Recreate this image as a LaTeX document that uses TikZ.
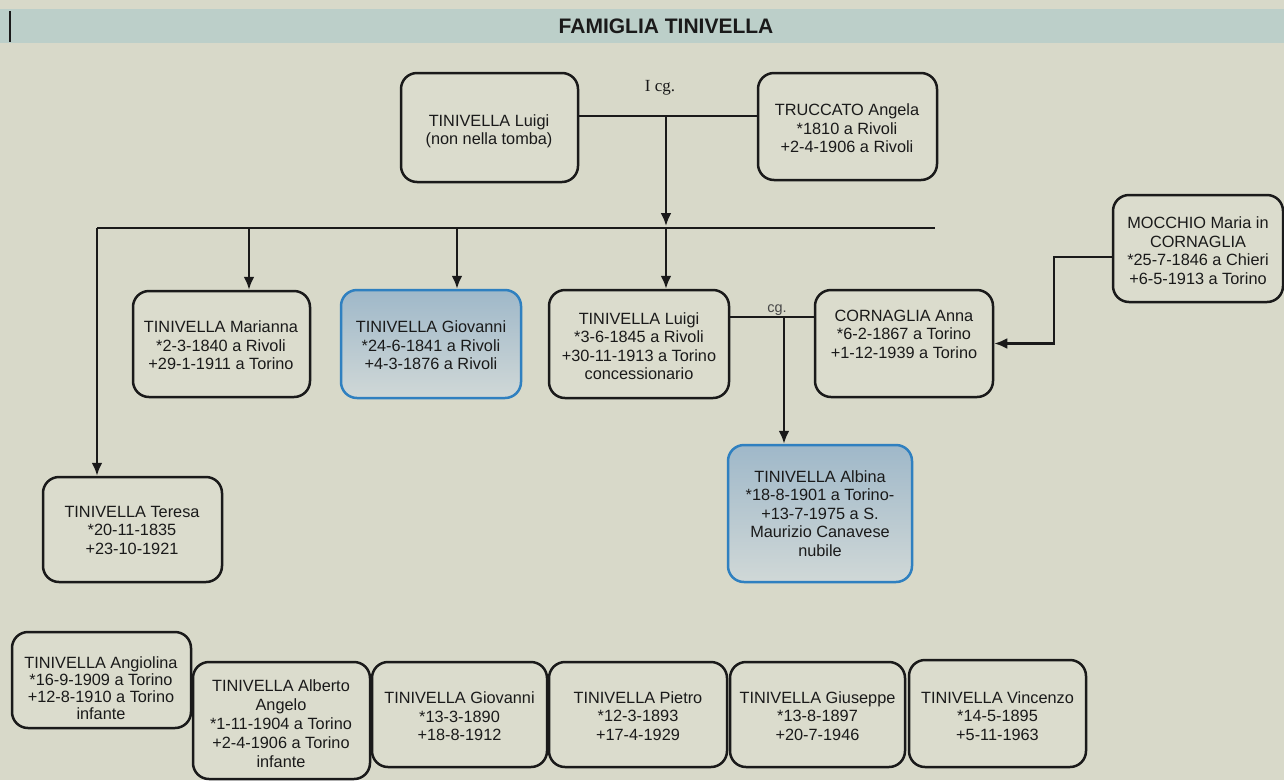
\documentclass[tikz,border=0pt]{standalone}
\usepackage{fontspec}
\setmainfont{Liberation Sans}
\newfontfamily\serifcg{Liberation Serif}
\usetikzlibrary{arrows.meta,shadings}
\definecolor{bg}{HTML}{D8D9C9}
\definecolor{barc}{HTML}{BCCFC9}
\definecolor{ink}{HTML}{1A1A1A}
\definecolor{blueedge}{HTML}{2F80C0}
\definecolor{bluetop}{HTML}{9FB8C9}
\definecolor{bluebot}{HTML}{D0D8D7}
\definecolor{boxfill}{HTML}{DBDCCD}
\begin{document}
\begin{tikzpicture}[x=1pt,y=-1pt,
  person/.style={draw=ink, line width=2.5pt, rounded corners=16pt, fill=boxfill, inner sep=0pt},
  hilite/.style={draw=blueedge, line width=2.5pt, rounded corners=16pt, top color=bluetop, bottom color=bluebot, inner sep=0pt},
  txt/.style={align=center, font=\fontsize{16.3}{18.5}\selectfont, text=ink, inner sep=0pt},
  conn/.style={draw=ink, line width=2.4pt},
  arr/.style={conn, -{Latex[length=13pt,width=11pt]}},
]
\useasboundingbox (0,0) rectangle (1284,780);
\fill[bg] (0,0) rectangle (1284,780);
\fill[barc] (0,9) rectangle (1284,43);
\draw[ink, line width=1.5pt] (10,11) -- (10,42);
\node[font=\bfseries\fontsize{21}{24}\selectfont, text=ink] (title) at (666,26) {FAMIGLIA TINIVELLA};

% boxes
\node[person, minimum width=177pt, minimum height=109pt] (lt) at (489.5,127.5) {};
\node[person, minimum width=179pt, minimum height=107pt] (tr) at (847.5,126.5) {};
\node[person, minimum width=177pt, minimum height=106pt] (ma) at (221.5,344) {};
\node[hilite, minimum width=180pt, minimum height=108pt] (gi) at (431,344) {};
\node[person, minimum width=180pt, minimum height=108pt] (lm) at (639,344) {};
\node[person, minimum width=178pt, minimum height=107pt] (co) at (904,343.5) {};
\node[person, minimum width=170pt, minimum height=107pt] (mo) at (1198,248.5) {};
\node[person, minimum width=179pt, minimum height=105pt] (te) at (132.5,529.5) {};
\node[hilite, minimum width=184pt, minimum height=137pt] (al) at (820,513.5) {};
\node[person, minimum width=179pt, minimum height=96pt] (an) at (101.5,680) {};
\node[person, minimum width=177pt, minimum height=117pt] (ab) at (281.5,720.5) {};
\node[person, minimum width=175pt, minimum height=105pt] (gb) at (459.5,714.5) {};
\node[person, minimum width=178pt, minimum height=105pt] (pi) at (638,714.5) {};
\node[person, minimum width=175pt, minimum height=105pt] (gu) at (817.5,714.5) {};
\node[person, minimum width=177pt, minimum height=107pt] (vi) at (997.5,713.5) {};

% texts
\node[txt] (ltt) at (489,131.5) {TINIVELLA Luigi\\(non nella tomba)};
\node[txt] (trt) at (847,128.5) {TRUCCATO Angela\\*1810 a Rivoli\\+2-4-1906 a Rivoli};
\node[txt] (mat) at (221,345.5) {TINIVELLA Marianna\\*2-3-1840 a Rivoli\\+29-1-1911 a Torino};
\node[txt] (git) at (431,345.5) {TINIVELLA Giovanni\\*24-6-1841 a Rivoli\\+4-3-1876 a Rivoli};
\node[txt] (lmt) at (639,346) {TINIVELLA Luigi\\*3-6-1845 a Rivoli\\+30-11-1913 a Torino\\concessionario};
\node[txt] (cot) at (904,334) {CORNAGLIA Anna\\*6-2-1867 a Torino\\+1-12-1939 a Torino};
\node[txt] (mot) at (1198,250.5) {MOCCHIO Maria in\\CORNAGLIA\\*25-7-1846 a Chieri\\+6-5-1913 a Torino};
\node[txt] (tet) at (132,530) {TINIVELLA Teresa\\*20-11-1835\\+23-10-1921};
\node[txt] (alt) at (820,513.5) {TINIVELLA Albina\\*18-8-1901 a Torino-\\+13-7-1975 a S.\\Maurizio Canavese\\nubile};
\node[txt, font=\fontsize{16.3}{17}\selectfont] (ant) at (101,688) {TINIVELLA Angiolina\\*16-9-1909 a Torino\\+12-8-1910 a Torino\\infante};
\node[txt, font=\fontsize{16.3}{19}\selectfont] (abt) at (281,723.5) {TINIVELLA Alberto\\Angelo\\*1-11-1904 a Torino\\+2-4-1906 a Torino\\infante};
\node[txt] (gbt) at (459.5,716.5) {TINIVELLA Giovanni\\*13-3-1890\\+18-8-1912};
\node[txt] (pit) at (638,716) {TINIVELLA Pietro\\*12-3-1893\\+17-4-1929};
\node[txt] (gut) at (817.5,716) {TINIVELLA Giuseppe\\*13-8-1897\\+20-7-1946};
\node[txt] (vit) at (997.5,716) {TINIVELLA Vincenzo\\*14-5-1895\\+5-11-1963};

% connectors
\coordinate (mj1) at (666,116);
\coordinate (barL) at (97,228);
\coordinate (barR) at (935,228);
\coordinate (d1) at (666,226);
\coordinate (d2) at (249,228);
\coordinate (d3) at (457,228);
\coordinate (d4) at (666,228);
\coordinate (mj2) at (784,317);
\coordinate (bend) at (1054,257);

\draw[conn] (lt.east |- mj1) -- (tr.west |- mj1);
\node[font=\serifcg\fontsize{17}{19}\selectfont, text=ink] (icg) at (660,88) {I cg.};
\draw[arr] (mj1) -- (d1);
\draw[conn] (barL) -- (barR);
\draw[arr] (barL) -- (barL |- te.north);
\draw[arr] (d2) -- (d2 |- ma.north);
\draw[arr] (d3) -- (d3 |- gi.north);
\draw[arr] (d4) -- (d4 |- lm.north);
\draw[conn] (lm.east |- mj2) -- (co.west |- mj2);
\node[font=\fontsize{14.5}{16}\selectfont, text=ink!80] (cg) at (777,310) {cg.};
\draw[arr] (mj2) -- (mj2 |- al.north);
\draw[arr] (mo.west |- bend) -- (bend) |- (co.east);
\end{tikzpicture}
\end{document}
